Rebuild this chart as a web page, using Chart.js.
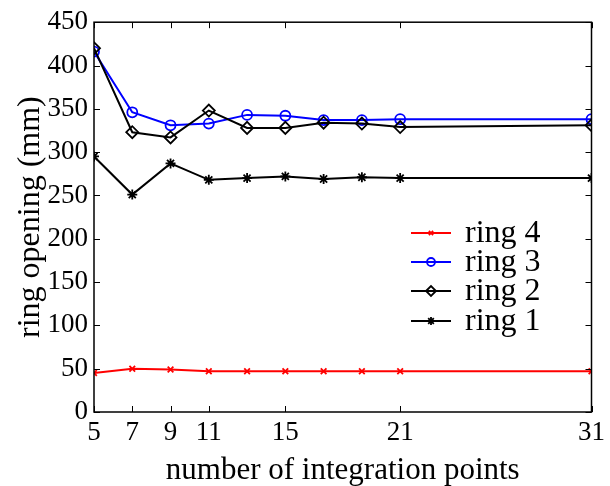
<!DOCTYPE html>
<html>
<head>
<meta charset="utf-8">
<script src="https://cdn.jsdelivr.net/npm/chart.js@4/dist/chart.umd.min.js"></script>
<style>
html,body{margin:0;padding:0;background:#fff;}
#c{display:block;}
</style>
</head>
<body>
<canvas id="c" width="610" height="486"></canvas>
<script>
const integrationPoints = [5, 7, 9, 11, 13, 15, 17, 19, 21, 31];
const ring1 = [295, 251, 287, 268, 270, 272, 269, 271, 270, 270];
const ring2 = [420, 323, 317, 348, 328, 328, 334, 333, 329, 331];
const ring3 = [416, 346, 331, 333, 343, 342, 337, 337, 338, 338];
const ring4 = [45, 50, 49, 47, 47, 47, 47, 47, 47, 47];
const xTicks = [5, 7, 9, 11, 15, 21, 31];
const yTicks = [0, 50, 100, 150, 200, 250, 300, 350, 400, 450];
const legendOrder = ['ring 4', 'ring 3', 'ring 2', 'ring 1'];

const FONT = '"Liberation Serif", "Times New Roman", serif';
const pts = arr => arr.map((v, i) => ({x: integrationPoints[i], y: v}));

function ds(label, data, color, style, radius) {
  return {
    label, data: pts(data), borderColor: color, backgroundColor: color,
    pointStyle: style, pointRadius: radius, pointHoverRadius: radius,
    pointBorderColor: color,
    pointBackgroundColor: (style === 'circle' || style === 'rectRot') ? 'rgba(0,0,0,0)' : color,
    pointBorderWidth: 1.8, borderWidth: 2, tension: 0, fill: false, showLine: true
  };
}

const frame = {
  id: 'frame',
  afterDatasetsDraw(chart) {
    const ctx = chart.ctx, a = chart.chartArea;
    const xs = chart.scales.x, ys = chart.scales.y;
    ctx.save();
    ctx.strokeStyle = '#000';
    ctx.lineWidth = 1.5;
    ctx.strokeRect(a.left, a.top, a.right - a.left, a.bottom - a.top);
    ctx.lineWidth = 1;
    const L = 6;
    ctx.beginPath();
    yTicks.forEach(v => {
      const y = Math.round(ys.getPixelForValue(v)) + 0.5;
      ctx.moveTo(a.left, y); ctx.lineTo(a.left + L, y);
      ctx.moveTo(a.right, y); ctx.lineTo(a.right - L, y);
    });
    xTicks.forEach(v => {
      const x = Math.round(xs.getPixelForValue(v)) + 0.5;
      ctx.moveTo(x, a.bottom); ctx.lineTo(x, a.bottom - L);
      ctx.moveTo(x, a.top); ctx.lineTo(x, a.top + L);
    });
    ctx.stroke();

    // legend
    const x0 = 411, x1 = 451, tx = 465;
    const ys0 = [233, 262, 291, 321];
    legendOrder.forEach((lab, i) => {
      const d = chart.data.datasets.find(s => s.label === lab);
      const y = ys0[i];
      ctx.strokeStyle = d.borderColor;
      ctx.lineWidth = 2;
      ctx.beginPath(); ctx.moveTo(x0, y); ctx.lineTo(x1, y); ctx.stroke();
      ctx.lineWidth = 1.8;
      ctx.fillStyle = d.pointBackgroundColor;
      Chart.helpers.drawPoint(ctx, {pointStyle: d.pointStyle, radius: d.pointRadius - 1, borderWidth: 1.8, rotation: 0}, (x0 + x1) / 2, y);
      ctx.fillStyle = '#000';
      ctx.font = '32px ' + FONT;
      ctx.textBaseline = 'middle';
      ctx.textAlign = 'left';
      ctx.fillText(lab, tx, y + 1);
    });
    ctx.restore();
  }
};

new Chart(document.getElementById('c'), {
  type: 'line',
  data: {
    datasets: [
      ds('ring 1', ring1, '#000000', 'star', 5),
      ds('ring 2', ring2, '#000000', 'rectRot', 6),
      ds('ring 3', ring3, '#0000ff', 'circle', 5),
      ds('ring 4', ring4, '#ff0000', 'crossRot', 4)
    ]
  },
  options: {
    responsive: false,
    animation: false,
    devicePixelRatio: 1,
    layout: {padding: {left: 0, right: 14, top: 18, bottom: 0}},
    plugins: {legend: {display: false}, tooltip: {enabled: false}},
    scales: {
      x: {
        type: 'linear', min: 5, max: 31,
        afterBuildTicks: s => { s.ticks = xTicks.map(v => ({value: v})); },
        afterFit: s => { s.height = 74; },
        grid: {display: false, drawTicks: false},
        border: {display: false},
        ticks: {color: '#000', font: {family: FONT, size: 27}, padding: 5, maxRotation: 0, autoSkip: false},
        title: {display: true, text: 'number of integration points', color: '#000', font: {family: FONT, size: 31, lineHeight: 1.0}, padding: {top: 0, bottom: 0}}
      },
      y: {
        min: 0, max: 450,
        afterBuildTicks: s => { s.ticks = yTicks.map(v => ({value: v})); },
        afterFit: s => { s.width = 94; },
        grid: {display: false, drawTicks: false},
        border: {display: false},
        ticks: {color: '#000', font: {family: FONT, size: 27}, padding: 6, autoSkip: false},
        title: {display: true, text: 'ring opening (mm)', color: '#000', font: {family: FONT, size: 32}, padding: {top: 11, bottom: 0}}
      }
    }
  },
  plugins: [frame]
});
</script>
</body>
</html>
